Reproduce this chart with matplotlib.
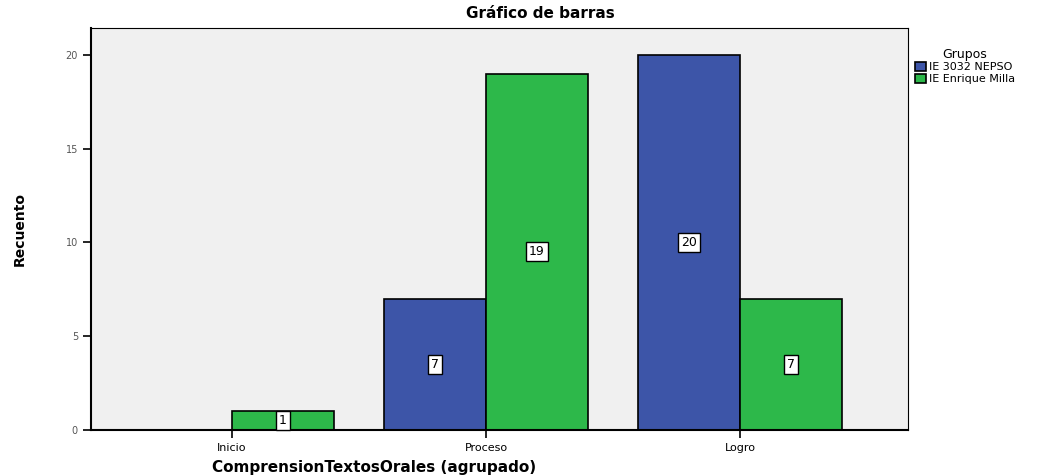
import matplotlib.pyplot as plt
import numpy as np

categories = ["Inicio", "Proceso", "Logro"]
grupos = ["IE 3032 NEPSO", "IE Enrique Milla"]
nepso = [0, 7, 20]
milla = [1, 19, 7]

colors = ["#3D55A8", "#2DB84A"]

fig = plt.figure(figsize=(10.48, 4.76), dpi=100)
ax = fig.add_axes([0.087, 0.097, 0.779, 0.844])
ax.set_facecolor("#F0F0F0")

x = np.arange(len(categories))
w = 0.4
for i, (vals, c) in enumerate(zip([nepso, milla], colors)):
    pos = x - w / 2 if i == 0 else x + w / 2
    ax.bar(pos, vals, width=w, color=c, edgecolor="black", linewidth=1.2,
           label=grupos[i])
    for p, v in zip(pos, vals):
        if v > 0:
            ax.text(p, v / 2, str(v), ha="center", va="center", fontsize=9,
                    bbox=dict(boxstyle="square,pad=0.25", fc="white", ec="black", lw=1))

ax.set_xlim(-0.555, 2.66)
ax.set_ylim(0, 21.44)
ax.set_yticks([0, 5, 10, 15, 20])
ax.set_yticklabels(["0", "5", "10", "15", "20"], fontsize=7, color="#555555")
ax.set_xticks(x)
ax.set_xticklabels(categories, fontsize=8)
ax.tick_params(axis="both", length=6, width=1.2)
for s in ["top", "right"]:
    ax.spines[s].set_linewidth(0.8)
for s in ["left", "bottom"]:
    ax.spines[s].set_linewidth(1.5)

fig.text(540 / 1048, 1 - 14 / 476, "Gráfico de barras", fontsize=11,
         fontweight="bold", ha="center", va="center")
ax.set_ylabel("Recuento", fontsize=10, fontweight="bold", labelpad=28)
ax.set_xlabel("ComprensionTextosOrales (agrupado)", fontsize=11, fontweight="bold", labelpad=2)
ax.xaxis.set_label_coords((374 - 91) / 817, -0.075)

ax.legend(title="Grupos", loc="upper left", bbox_to_anchor=(1.0, 0.97),
          frameon=False, fontsize=8, title_fontsize=9, handlelength=1.0,
          handleheight=0.9, handletextpad=0.2, labelspacing=0.1, borderaxespad=0.3)

fig.savefig("out.png", dpi=100)
